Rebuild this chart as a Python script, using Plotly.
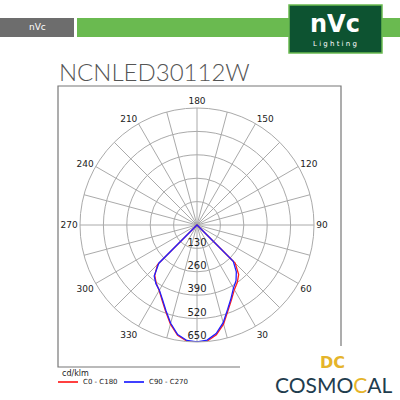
import plotly.graph_objects as go

gamma = [0, 5, 10, 15, 20, 25, 30, 35, 40, 45, 50, 60, 90, 180, 270, 300, 310, 315, 320, 325, 330, 335, 340, 345, 350, 355, 360]
c0 = [655, 648, 620, 570, 505, 455, 415, 390, 360, 300, 0, 0, 0, 0, 0, 0, 0, 310, 365, 395, 420, 460, 510, 570, 622, 648, 655]
c90 = [650, 642, 612, 562, 498, 448, 405, 378, 340, 285, 0, 0, 0, 0, 0, 0, 0, 300, 370, 398, 418, 455, 505, 565, 618, 644, 650]
rticks = [130, 260, 390, 520, 650]
aticks = list(range(0, 360, 15))
alabels = [str(a) if a % 30 == 0 else "" for a in aticks]
alabels[0] = ""

fig = go.Figure()
fig.add_trace(go.Scatterpolar(r=c0, theta=gamma, mode="lines", line=dict(color="#ff2020", width=1.3), name="C0 - C180"))
fig.add_trace(go.Scatterpolar(r=c90, theta=gamma, mode="lines", line=dict(color="#2020ff", width=1.3), name="C90 - C270"))
fig.add_trace(go.Scatterpolar(r=[v - 30 for v in rticks], theta=[0] * len(rticks), mode="text",
                              text=[str(v) for v in rticks], textfont=dict(size=10, color="#222", family="DejaVu Sans")))

def px(x): return x / 400
def py(y): return 1 - y / 400

shapes = [
    dict(type="rect", xref="paper", yref="paper", x0=px(0), x1=px(74), y0=py(37), y1=py(18), fillcolor="#6d6d6d", line_width=0),
    dict(type="rect", xref="paper", yref="paper", x0=px(77), x1=px(400), y0=py(37), y1=py(18), fillcolor="#6aba50", line_width=0),
    dict(type="rect", xref="paper", yref="paper", x0=px(289), x1=px(382), y0=py(53), y1=py(5), fillcolor="#0d5331", line=dict(color="#6aba50", width=1.5)),
    dict(type="path", xref="paper", yref="paper", path=f"M {px(341)},{py(346)} L {px(341)},{py(86)} L {px(58)},{py(86)} L {px(58)},{py(367)} L {px(240)},{py(367)}", line=dict(color="#777", width=1.2)),
    dict(type="line", xref="paper", yref="paper", x0=px(58), x1=px(78), y0=py(382), y1=py(382), line=dict(color="red", width=1.5)),
    dict(type="line", xref="paper", yref="paper", x0=px(124), x1=px(144), y0=py(382), y1=py(382), line=dict(color="blue", width=1.5)),
]
ann = [
    dict(text="nVc", x=px(37), y=py(27), font=dict(size=9, color="white", family="DejaVu Sans")),
    dict(text="<b>nVc</b>", x=px(335), y=py(24), font=dict(size=24, color="white", family="DejaVu Sans")),
    dict(text="L i g h t i n g", x=px(335), y=py(44), font=dict(size=7, color="white", family="DejaVu Sans")),
    dict(text="NCNLED30112W", x=px(57), y=py(72), xanchor="left", font=dict(size=24, color="#555", family="Lato", weight=300)),
    dict(text="cd/klm", x=px(60), y=py(373), xanchor="left", font=dict(size=8, color="#222", family="DejaVu Sans")),
    dict(text="C0 - C180", x=px(81), y=py(382), xanchor="left", font=dict(size=7, color="#222", family="DejaVu Sans")),
    dict(text="C90 - C270", x=px(147), y=py(382), xanchor="left", font=dict(size=7, color="#222", family="DejaVu Sans")),
    dict(text="<b>DC</b>", x=px(332), y=py(362), font=dict(size=16, color="#e5b42a", family="DejaVu Sans")),
    dict(text="COSMO<span style='color:#e5b42a'>C</span>AL", x=px(333), y=py(384), font=dict(size=21, color="#1f3d4e", family="Lato")),
]
for a in ann:
    a.update(xref="paper", yref="paper", showarrow=False, yanchor="middle")
    a.setdefault("xanchor", "center")

fig.update_layout(
    width=400, height=400, margin=dict(l=0, r=0, t=0, b=0),
    paper_bgcolor="white", showlegend=False, shapes=shapes, annotations=ann,
    polar=dict(
        domain=dict(x=[px(80), px(314)], y=[py(342), py(108)]),
        bgcolor="white",
        angularaxis=dict(rotation=270, direction="counterclockwise", tickvals=aticks, ticktext=alabels,
                         gridcolor="#aaa", linecolor="#aaa", ticks="", tickfont=dict(size=9, color="#222", family="DejaVu Sans")),
        radialaxis=dict(range=[0, 650], tickvals=rticks, gridcolor="#aaa", showline=False,
                        ticks="", showticklabels=False),
    ),
)
fig.write_html("out.html", post_script="document.body.style.margin='0';", config={"displayModeBar": False})
